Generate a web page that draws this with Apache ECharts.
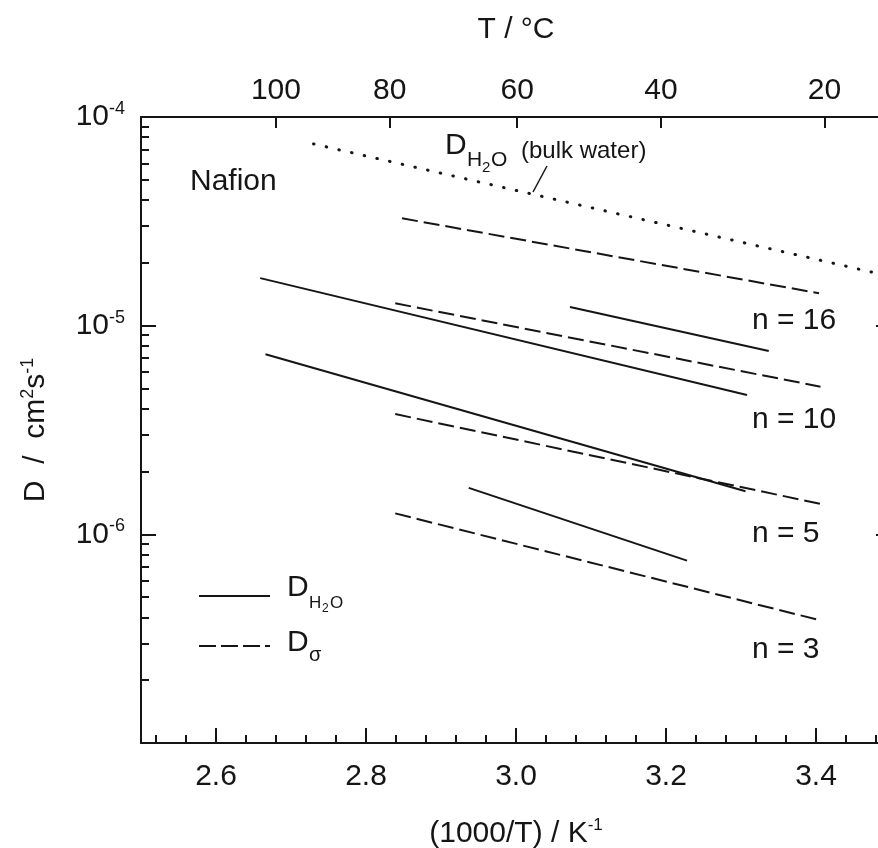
<!DOCTYPE html>
<html>
<head>
<meta charset="utf-8">
<script src="https://cdn.jsdelivr.net/npm/echarts@6/dist/echarts.min.js"></script>
<style>
  html, body { margin: 0; padding: 0; background: #fff; }
  #main { width: 878px; height: 848px; }
</style>
</head>
<body>
<div id="main"></div>
<script>
// 刻度
var tempTicks = [100, 80, 60, 40, 20];          // 上轴 T / °C
var invTTicks = [2.6, 2.8, 3.0, 3.2, 3.4];      // 下轴 1000/T

// 每条直线两个端点: x = 1000/T, D / cm2 s-1
var bulkX = [2.730, 3.500];  var bulkD = [7.43e-5, 1.72e-5];   // 纯水
var n16sX = [2.848, 3.404];  var n16sD = [3.27e-5, 1.43e-5];
var n16wX = [3.072, 3.337];  var n16wD = [1.23e-5, 7.56e-6];
var n10wX = [2.659, 3.308];  var n10wD = [1.69e-5, 4.65e-6];
var n10sX = [2.839, 3.406];  var n10sD = [1.28e-5, 5.10e-6];
var n5wX  = [2.666, 3.306];  var n5wD  = [7.29e-6, 1.61e-6];
var n5sX  = [2.839, 3.406];  var n5sD  = [3.77e-6, 1.40e-6];
var n3wX  = [2.937, 3.228];  var n3wD  = [1.67e-6, 7.48e-7];
var n3sX  = [2.839, 3.407];  var n3sD  = [1.26e-6, 3.86e-7];

var FONT = 'Liberation Sans, Arial, sans-serif';
var INK = '#151515';

function pts(xs, ds) {
    return xs.map(function (x, i) { return [x, ds[i]]; });
}

// 次刻度
var minorX = [];
for (var i = 0; i < 25; i++) {
    var v = Math.round((2.52 + 0.04 * i) * 100) / 100;
    if (Math.abs(v * 5 - Math.round(v * 5)) > 1e-6) minorX.push(v);
}
var minorY = [];
for (var e = -7; e < -4; e++) {
    for (var k = 2; k <= 9; k++) minorY.push(k * Math.pow(10, e));
}
var tempPos = tempTicks.map(function (t) { return 1000 / (t + 273.15); });

var myChart = echarts.init(document.getElementById('main'));

function lineSeries(name, xs, ds, kind) {
    var ls = { color: INK, width: 2 };
    if (kind === 'dash') ls.type = [16, 6];
    if (kind === 'dot') { ls.type = [0.5, 12.5]; ls.cap = 'round'; ls.width = 3; }
    return {
        name: name,
        type: 'line',
        data: pts(xs, ds),
        showSymbol: false,
        symbol: 'none',
        silent: true,
        lineStyle: ls
    };
}

var supRich = {
    b: { fontSize: 30, lineHeight: 34, fontFamily: FONT, color: INK },
    s: { fontSize: 18, lineHeight: 18, verticalAlign: 'top', fontFamily: FONT, color: INK }
};

function txt(x, y, s, size, align) {
    return {
        type: 'text', x: x, y: y, silent: true,
        style: { text: s, font: size + 'px ' + FONT, fill: INK, align: align || 'left', verticalAlign: 'middle' }
    };
}
function seg(x1, y1, x2, y2, dash, w) {
    return {
        type: 'line', silent: true,
        shape: { x1: x1, y1: y1, x2: x2, y2: y2 },
        style: { stroke: INK, lineWidth: w || 2, lineDash: dash || null }
    };
}

option = {
    animation: false,
    backgroundColor: '#fff',
    textStyle: { fontFamily: FONT, color: INK },
    grid: { left: 141, top: 117, width: 750, height: 626, outerBoundsMode: 'none', containLabel: false },
    xAxis: [
        {
            type: 'value', position: 'bottom', min: 2.5, max: 3.5,
            name: '(1000/T) / K{s|-1}',
            nameLocation: 'middle', nameGap: 74,
            nameTextStyle: {
                fontSize: 30, lineHeight: 34, color: INK, fontFamily: FONT,
                rich: { s: { fontSize: 17, lineHeight: 14, verticalAlign: 'top', fontFamily: FONT, color: INK } }
            },
            axisLine: { show: true, lineStyle: { color: INK, width: 2 } },
            axisTick: { show: true, inside: true, length: 15, customValues: invTTicks, lineStyle: { color: INK, width: 2 } },
            axisLabel: {
                customValues: invTTicks, margin: 19, fontSize: 30, lineHeight: 30, color: INK, fontFamily: FONT,
                formatter: function (v) { return v.toFixed(1); }
            },
            splitLine: { show: false }
        },
        {
            type: 'value', position: 'bottom', min: 2.5, max: 3.5,
            axisLine: { show: false },
            axisTick: { show: true, inside: true, length: 8, customValues: minorX, lineStyle: { color: INK, width: 2 } },
            axisLabel: { show: false },
            splitLine: { show: false }
        },
        {
            type: 'value', position: 'top', min: 2.5, max: 3.5,
            name: 'T / °C',
            nameLocation: 'middle', nameGap: 70,
            nameTextStyle: { fontSize: 30, lineHeight: 34, color: INK, fontFamily: FONT },
            axisLine: { show: true, lineStyle: { color: INK, width: 2 } },
            axisTick: { show: true, inside: true, length: 11, customValues: tempPos, lineStyle: { color: INK, width: 2 } },
            axisLabel: {
                customValues: tempPos, margin: 11, fontSize: 30, lineHeight: 30, color: INK, fontFamily: FONT,
                formatter: function (v) { return String(Math.round(1000 / v - 273.15)); }
            },
            splitLine: { show: false }
        }
    ],
    yAxis: [
        {
            type: 'log', logBase: 10, position: 'left', min: 1e-7, max: 1e-4,
            name: 'D  /  cm{s|2}s{s|-1}',
            nameLocation: 'middle', nameGap: 88, nameRotate: 90,
            nameTextStyle: {
                fontSize: 30, lineHeight: 34, color: INK, fontFamily: FONT,
                rich: { s: { fontSize: 18, lineHeight: 16, verticalAlign: 'top', fontFamily: FONT, color: INK } }
            },
            axisLine: { show: true, lineStyle: { color: INK, width: 2 } },
            axisTick: { show: true, inside: true, length: 15, lineStyle: { color: INK, width: 2 } },
            axisLabel: {
                showMinLabel: false, margin: 16,
                formatter: function (v) {
                    var ex = Math.round(Math.log10(v));
                    return '{b|10}{s|' + ex + '}';
                },
                rich: supRich
            },
            splitLine: { show: false }
        },
        {
            type: 'log', logBase: 10, position: 'left', min: 1e-7, max: 1e-4,
            axisLine: { show: false },
            axisTick: { show: true, inside: true, length: 8, customValues: minorY, lineStyle: { color: INK, width: 2 } },
            axisLabel: { show: false },
            splitLine: { show: false }
        },
        {
            type: 'log', logBase: 10, position: 'right', min: 1e-7, max: 1e-4,
            axisLine: { show: true, lineStyle: { color: INK, width: 2 } },
            axisTick: { show: true, inside: true, length: 15, lineStyle: { color: INK, width: 2 } },
            axisLabel: { show: false },
            splitLine: { show: false }
        }
    ],
    series: [
        lineSeries('bulk', bulkX, bulkD, 'dot'),
        lineSeries('n16 sigma', n16sX, n16sD, 'dash'),
        lineSeries('n16 H2O', n16wX, n16wD, 'solid'),
        lineSeries('n10 H2O', n10wX, n10wD, 'solid'),
        lineSeries('n10 sigma', n10sX, n10sD, 'dash'),
        lineSeries('n5 H2O', n5wX, n5wD, 'solid'),
        lineSeries('n5 sigma', n5sX, n5sD, 'dash'),
        lineSeries('n3 H2O', n3wX, n3wD, 'solid'),
        lineSeries('n3 sigma', n3sX, n3sD, 'dash')
    ],
    graphic: {
        elements: [
            txt(190, 182, 'Nafion', 30),
            txt(752, 321, 'n = 16', 30),
            txt(752, 420, 'n = 10', 30),
            txt(752, 534, 'n = 5', 30),
            txt(752, 650, 'n = 3', 30),
            // D_H2O (bulk water)
            txt(445, 146, 'D', 30),
            txt(467, 160, 'H', 21),
            txt(482, 168, '2', 15),
            txt(491, 160, 'O', 21),
            txt(521, 151, '(bulk water)', 24),
            seg(533, 192, 547, 166, null, 1.5),
            // 图例
            seg(199, 596, 270, 596, null, 2),
            txt(287, 588, 'D', 30),
            txt(309, 603, 'H', 17),
            txt(322, 609, '2', 12),
            txt(330, 603, 'O', 17),
            seg(199, 646, 270, 646, [17, 5], 2),
            txt(287, 643, 'D', 30),
            txt(309, 655, 'σ', 20)
        ]
    }
};

myChart.setOption(option);
</script>
</body>
</html>
